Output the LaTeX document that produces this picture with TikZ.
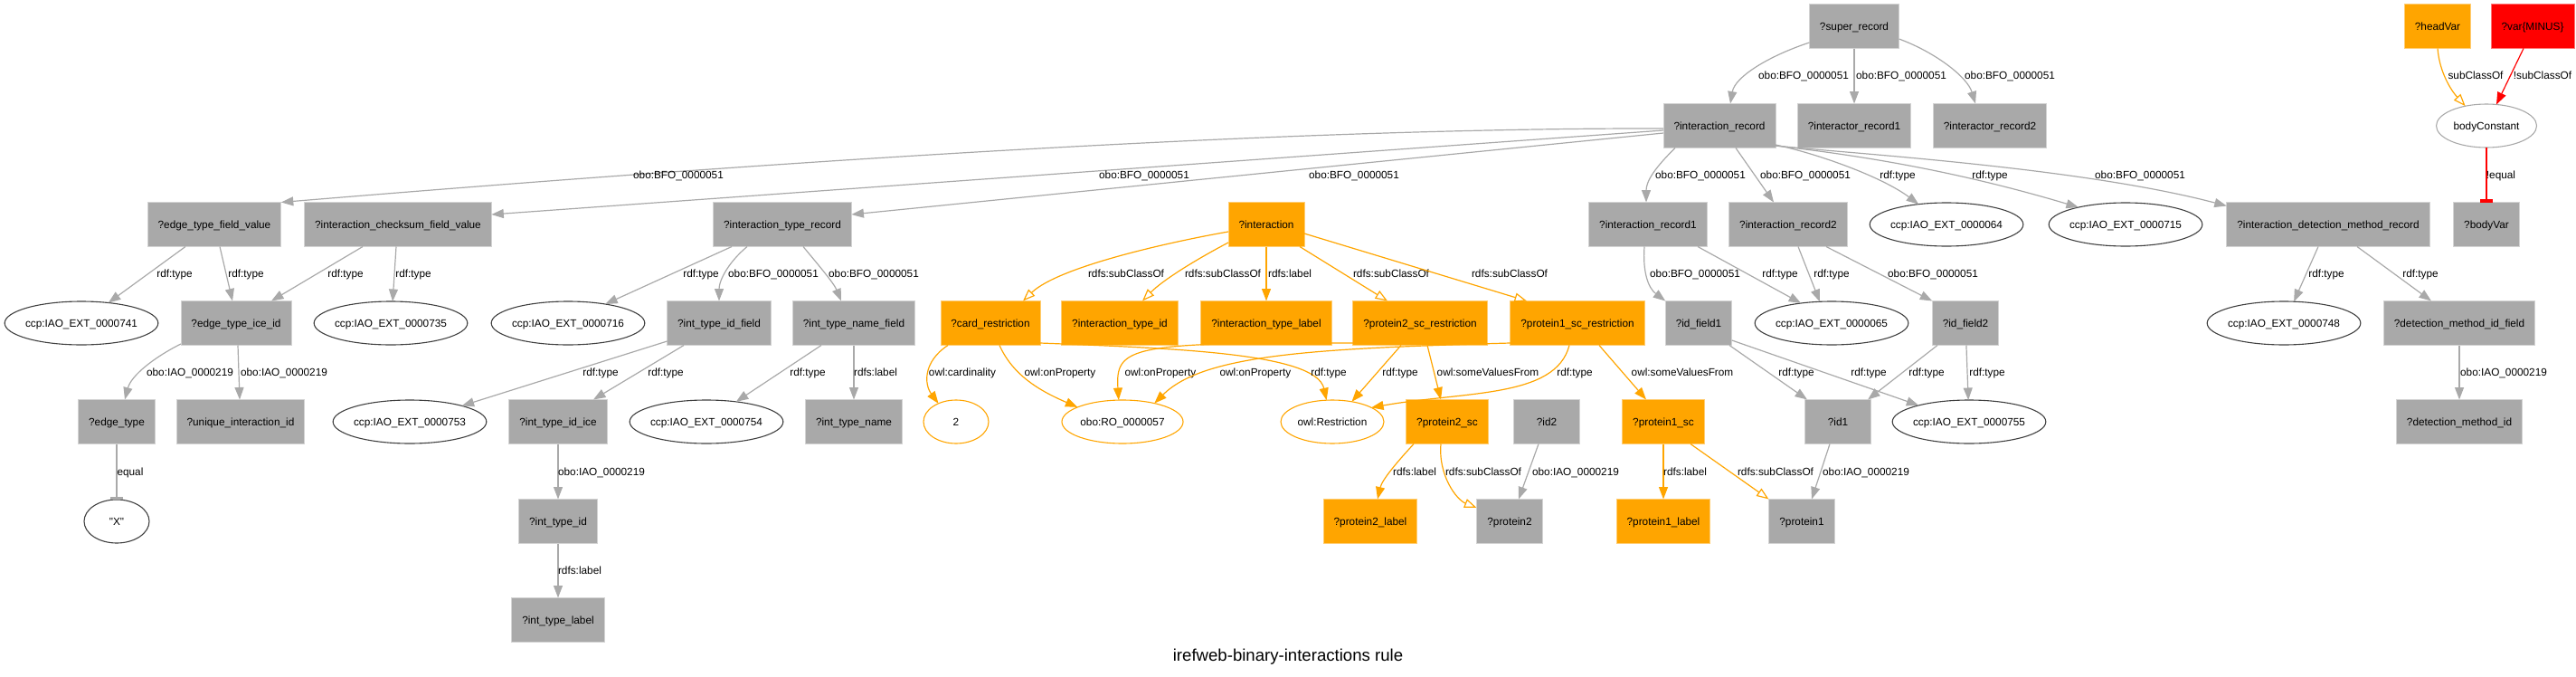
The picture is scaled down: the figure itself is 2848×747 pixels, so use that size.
\documentclass[tikz,border=0pt]{standalone}
\usepackage{fontspec}
\newfontfamily\gvfont{Liberation Sans}
\usetikzlibrary{arrows.meta,shapes.geometric}
\definecolor{gvgray}{HTML}{A9A9A9}
\definecolor{gvlight}{HTML}{D3D3D3}
\definecolor{gvorange}{HTML}{FFA500}
\definecolor{gvred}{HTML}{FF0000}
\definecolor{gvdark}{HTML}{404040}
\newcommand{\lblfont}{\gvfont\fontsize{11.8pt}{14pt}\selectfont}
\newcommand{\titlefont}{\gvfont\fontsize{18.6pt}{22pt}\selectfont}

\begin{document}
\begin{tikzpicture}[x=1pt,y=-1pt,>={Triangle[length=13.5pt,width=10pt]},
  var node/.style={rectangle,fill=gvgray,draw=gvlight,line width=0.8pt,minimum height=49pt,minimum width=73pt,inner xsep=11.5pt,inner ysep=0pt,outer sep=0pt,text height=8.5pt,text depth=0pt,font=\lblfont},
  head node/.style={var node,fill=gvorange,draw=gvorange!55!white},
  minus node/.style={var node,fill=gvred,draw=gvred!55!white},
  const node/.style={ellipse,draw=gvdark,line width=1.1pt,minimum height=48pt,minimum width=72pt,inner xsep=-2pt,inner ysep=0pt,outer sep=0pt,text height=8.5pt,text depth=0pt,font=\lblfont},
  head const/.style={const node,draw=gvorange},
  body const/.style={const node,draw=gvgray},
  body edge/.style={->,draw=gvgray,line width=1.2pt},
  head edge/.style={->,draw=gvorange,line width=1.2pt},
  sub edge/.style={head edge,-{Triangle[open,length=13.5pt,width=10pt]}},
  minus edge/.style={->,draw=gvred,line width=1.2pt},
  equal edge/.style={-{Rectangle[length=3.5pt,width=14pt]}},
  lbl/.style={font=\lblfont,inner sep=0pt,text height=8.5pt,text depth=0pt}]
  \useasboundingbox (0,0) rectangle (2848,747);

  \node[var node] (super) at (2050,29) {?super\_record};
  \node[head node] (head) at (2695,29) {?headVar};
  \node[minus node] (minus) at (2800,29) {?var\{MINUS\}};

  \node[var node] (ir) at (1901,139) {?interaction\_record};
  \node[var node] (iar1) at (2050,139) {?interactor\_record1};
  \node[var node] (iar2) at (2200,139) {?interactor\_record2};
  \node[body const,minimum width=111pt] (bc) at (2749,139) {bodyConstant};

  \node[var node] (etfv) at (237,248) {?edge\_type\_field\_value};
  \node[var node] (icfv) at (440,248) {?interaction\_checksum\_field\_value};
  \node[var node] (itr) at (865,248) {?interaction\_type\_record};
  \node[head node] (inter) at (1400,248) {?interaction};
  \node[var node] (ir1) at (1822,248) {?interaction\_record1};
  \node[var node] (ir2) at (1977,248) {?interaction\_record2};
  \node[const node] (e64) at (2152,248) {ccp:IAO\_EXT\_0000064};
  \node[const node] (e715) at (2350,248) {ccp:IAO\_EXT\_0000715};
  \node[var node] (idmr) at (2574,248) {?interaction\_detection\_method\_record};
  \node[var node] (bv) at (2749,248) {?bodyVar};

  \node[const node] (e741) at (90,357) {ccp:IAO\_EXT\_0000741};
  \node[var node] (etii) at (261,357) {?edge\_type\_ice\_id};
  \node[const node] (e735) at (432,357) {ccp:IAO\_EXT\_0000735};
  \node[const node] (e716) at (628,357) {ccp:IAO\_EXT\_0000716};
  \node[var node] (itif) at (795,357) {?int\_type\_id\_field};
  \node[var node] (itnf) at (944,357) {?int\_type\_name\_field};
  \node[head node] (card) at (1095,357) {?card\_restriction};
  \node[head node] (itid) at (1238,357) {?interaction\_type\_id};
  \node[head node] (itlab) at (1400,357) {?interaction\_type\_label};
  \node[head node] (p2r) at (1570,357) {?protein2\_sc\_restriction};
  \node[head node] (p1r) at (1744,357) {?protein1\_sc\_restriction};
  \node[var node] (idf1) at (1878,357) {?id\_field1};
  \node[const node] (e65) at (2025,357) {ccp:IAO\_EXT\_0000065};
  \node[var node] (idf2) at (2173,357) {?id\_field2};
  \node[const node] (e748) at (2525,357) {ccp:IAO\_EXT\_0000748};
  \node[var node] (dmif) at (2719,357) {?detection\_method\_id\_field};

  \node[var node] (etype) at (129,466) {?edge\_type};
  \node[var node] (uiid) at (266,466) {?unique\_interaction\_id};
  \node[const node] (e753) at (453,466) {ccp:IAO\_EXT\_0000753};
  \node[var node] (itii) at (617,466) {?int\_type\_id\_ice};
  \node[const node] (e754) at (781,466) {ccp:IAO\_EXT\_0000754};
  \node[var node] (itn) at (944,466) {?int\_type\_name};
  \node[head const] (two) at (1057,466) {2};
  \node[head const,minimum width=134pt] (ro) at (1241,466) {obo:RO\_0000057};
  \node[head const,minimum width=114pt] (restr) at (1473,466) {owl:Restriction};
  \node[head node] (p2sc) at (1600,466) {?protein2\_sc};
  \node[var node] (id2) at (1710,466) {?id2};
  \node[head node] (p1sc) at (1839,466) {?protein1\_sc};
  \node[var node] (id1) at (2032,466) {?id1};
  \node[const node] (e755) at (2177,466) {ccp:IAO\_EXT\_0000755};
  \node[var node] (dmid) at (2719,466) {?detection\_method\_id};

  \node[const node] (xq) at (129,576) {"X"};
  \node[var node] (itidv) at (617,576) {?int\_type\_id};
  \node[head node] (p2lab) at (1515,576) {?protein2\_label};
  \node[var node] (prot2) at (1669,576) {?protein2};
  \node[head node] (p1lab) at (1839,576) {?protein1\_label};
  \node[var node] (prot1) at (1992,576) {?protein1};

  \node[var node] (itl) at (617,685) {?int\_type\_label};

  \node[font=\titlefont,inner sep=0pt,text height=13.3pt,text depth=0pt] (title) at (1424,724) {irefweb-binary-interactions rule};

  \draw[body edge] ([yshift=-18pt]super.west) .. controls (1955,62) and (1918,85) .. ([xshift=12pt]ir.north) node[lbl] at (1994,83) {obo:BFO\_0000051};
  \draw[body edge] (super) -- (iar1) node[lbl] at (2102,83) {obo:BFO\_0000051};
  \draw[body edge] ([yshift=-14pt]super.east) .. controls (2140,58) and (2175,85) .. ([xshift=-16pt]iar2.north) node[lbl] at (2222,83) {obo:BFO\_0000051};

  \draw[body edge] ([yshift=-3pt]ir.west) .. controls (1400,141) and (800,183) .. (etfv.north east) node[lbl] at (750,193) {obo:BFO\_0000051};
  \draw[body edge] ([yshift=-5pt]ir.west) -- ([yshift=11pt]icfv.east) node[lbl] at (1265,193) {obo:BFO\_0000051};
  \draw[body edge] ([yshift=-8pt]ir.west) -- ([yshift=11pt]itr.east) node[lbl] at (1497,193) {obo:BFO\_0000051};
  \draw[body edge] ([xshift=-49pt]ir.south) .. controls (1830,185) and (1820,200) .. ([xshift=-2pt]ir1.north) node[lbl] at (1880,193) {obo:BFO\_0000051};
  \draw[body edge] ([xshift=18pt]ir.south) -- ([xshift=-16pt]ir2.north) node[lbl] at (1996,193) {obo:BFO\_0000051};
  \draw[body edge] ([yshift=-21pt]ir.east) .. controls (2010,170) and (2080,195) .. (e64.144) node[lbl] at (2098,193) {rdf:type};
  \draw[body edge] ([yshift=-22pt]ir.east) .. controls (2040,170) and (2150,185) .. (e715.160) node[lbl] at (2200,193) {rdf:type};
  \draw[body edge] ([yshift=-22pt]ir.east) .. controls (2050,170) and (2300,185) .. ([yshift=-4pt]idmr.north west) node[lbl] at (2366,193) {obo:BFO\_0000051};

  \draw[sub edge] (head.south) .. controls (2697,80) and (2710,100) .. (bc.137) node[lbl] at (2737,83) {subClassOf};
  \draw[minus edge] ([xshift=-10pt]minus.south) -- (bc.65) node[lbl] at (2811,83) {!subClassOf};
  \draw[minus edge,equal edge] (bc) -- (bv) node[lbl] at (2765,193) {!equal};

  \draw[body edge] ([xshift=-32pt]etfv.south) -- (e741.37) node[lbl] at (193,302) {rdf:type};
  \draw[body edge] ([xshift=6pt]etfv.south) -- ([xshift=-4pt]etii.north) node[lbl] at (272,302) {rdf:type};
  \draw[body edge] ([xshift=-39pt]icfv.south) -- ([xshift=39pt]etii.north) node[lbl] at (382,302) {rdf:type};
  \draw[body edge] ([xshift=-2pt]icfv.south) -- (e735.85) node[lbl] at (457,302) {rdf:type};
  \draw[body edge] ([yshift=-23pt]etii.west) .. controls (170,395) and (145,415) .. ([xshift=9pt]etype.north) node[lbl] at (210,411) {obo:IAO\_0000219};
  \draw[body edge] ([xshift=2pt]etii.south) -- ([xshift=-1pt]uiid.north) node[lbl] at (314,411) {obo:IAO\_0000219};
  \draw[body edge,equal edge] (etype) -- (xq) node[lbl] at (144,521) {equal};

  \draw[body edge] ([xshift=-56pt]itr.south) -- (e716.27) node[lbl] at (775,302) {rdf:type};
  \draw[body edge] ([xshift=-39pt]itr.south) .. controls (805,290) and (795,310) .. (itif.north) node[lbl] at (855,302) {obo:BFO\_0000051};
  \draw[body edge] ([xshift=23pt]itr.south) .. controls (905,293) and (922,313) .. ([xshift=-14pt]itnf.north) node[lbl] at (966,302) {obo:BFO\_0000051};
  \draw[body edge] ([yshift=-20pt]itif.west) -- (e753.17) node[lbl] at (664,411) {rdf:type};
  \draw[body edge] ([xshift=-39pt]itif.south) -- ([xshift=39pt]itii.north) node[lbl] at (736,411) {rdf:type};
  \draw[body edge] ([xshift=-36pt]itnf.south) -- (e754.34) node[lbl] at (893,411) {rdf:type};
  \draw[body edge] (itnf) -- (itn) node[lbl] at (968,411) {rdfs:label};
  \draw[body edge] (itii) -- (itidv) node[lbl] at (665,521) {obo:IAO\_0000219};
  \draw[body edge] (itidv) -- (itl) node[lbl] at (641,630) {rdfs:label};

  \draw[sub edge] ([yshift=-8pt]inter.west) .. controls (1290,268) and (1170,295) .. ([xshift=36pt]card.north) node[lbl] at (1245,302) {rdfs:subClassOf};
  \draw[sub edge] ([yshift=-20pt]inter.west) .. controls (1320,288) and (1285,310) .. ([xshift=25pt]itid.north) node[lbl] at (1352,302) {rdfs:subClassOf};
  \draw[head edge] (inter) -- (itlab) node[lbl] at (1426,302) {rdfs:label};
  \draw[sub edge] ([xshift=37pt]inter.south) -- ([xshift=-36pt]p2r.north) node[lbl] at (1538,302) {rdfs:subClassOf};
  \draw[sub edge] ([yshift=-10pt]inter.east) -- ([xshift=-56pt]p1r.north) node[lbl] at (1669,302) {rdfs:subClassOf};

  \draw[head edge] ([xshift=-47pt]card.south) .. controls (1020,400) and (1022,425) .. (two.134) node[lbl] at (1064,411) {owl:cardinality};
  \draw[head edge] ([xshift=10pt]card.south) .. controls (1120,415) and (1150,432) .. (ro.162) node[lbl] at (1172,411) {owl:onProperty};
  \draw[head edge] ([yshift=-22pt]card.east) .. controls (1300,385) and (1455,390) .. (restr.105) node[lbl] at (1469,411) {rdf:type};
  \draw[head edge] ([yshift=-22pt]p2r.west) .. controls (1250,378) and (1233,383) .. (ro.100) node[lbl] at (1283,411) {owl:onProperty};
  \draw[head edge] ([xshift=-21pt]p2r.south) -- (restr.46) node[lbl] at (1548,411) {rdf:type};
  \draw[head edge] ([xshift=8pt]p2r.south) -- ([xshift=-7pt]p2sc.north) node[lbl] at (1645,411) {owl:someValuesFrom};
  \draw[head edge] ([yshift=-22pt]p1r.west) .. controls (1450,385) and (1330,392) .. (ro.30) node[lbl] at (1388,411) {owl:onProperty};
  \draw[head edge] ([xshift=-9pt]p1r.south) .. controls (1720,440) and (1620,432) .. (restr.20) node[lbl] at (1741,411) {rdf:type};
  \draw[head edge] ([xshift=24pt]p1r.south) -- ([xshift=-19pt]p1sc.north) node[lbl] at (1860,411) {owl:someValuesFrom};

  \draw[head edge] ([xshift=-37pt]p2sc.south) .. controls (1545,510) and (1528,530) .. ([xshift=8pt]p2lab.north) node[lbl] at (1564,521) {rdfs:label};
  \draw[sub edge] ([xshift=-7pt]p2sc.south) .. controls (1590,525) and (1610,552) .. ([yshift=15pt]prot2.west) node[lbl] at (1640,521) {rdfs:subClassOf};
  \draw[body edge] ([xshift=-9pt]id2.south) -- ([xshift=10pt]prot2.north) node[lbl] at (1742,521) {obo:IAO\_0000219};
  \draw[head edge] (p1sc) -- (p1lab) node[lbl] at (1863,521) {rdfs:label};
  \draw[sub edge] ([xshift=30pt]p1sc.south) -- (prot1.north west) node[lbl] at (1963,521) {rdfs:subClassOf};
  \draw[body edge] ([xshift=-9pt]id1.south) -- ([xshift=11pt]prot1.north) node[lbl] at (2063,521) {obo:IAO\_0000219};

  \draw[body edge] ([xshift=-4pt]ir1.south) .. controls (1816,300) and (1822,318) .. (idf1.north west) node[lbl] at (1874,302) {obo:BFO\_0000051};
  \draw[body edge] ([xshift=55pt]ir1.south) -- (e65.147) node[lbl] at (1968,302) {rdf:type};
  \draw[body edge] ([xshift=11pt]ir2.south) -- (e65.119) node[lbl] at (2025,302) {rdf:type};
  \draw[body edge] ([xshift=42pt]ir2.south) -- (idf2.north west) node[lbl] at (2137,302) {obo:BFO\_0000051};
  \draw[body edge] ([xshift=34pt]idf1.south) -- ([xshift=-34pt]id1.north) node[lbl] at (1986,411) {rdf:type};
  \draw[body edge] ([yshift=-19pt]idf1.east) -- (e755.162) node[lbl] at (2066,411) {rdf:type};
  \draw[body edge] ([xshift=-31pt]idf2.south) -- ([xshift=33pt]id1.north) node[lbl] at (2130,411) {rdf:type};
  \draw[body edge] (idf2) -- (e755.92) node[lbl] at (2197,411) {rdf:type};

  \draw[body edge] ([xshift=-11pt]idmr.south) -- (e748.65) node[lbl] at (2572,302) {rdf:type};
  \draw[body edge] ([xshift=32pt]idmr.south) -- ([xshift=-31pt]dmif.north) node[lbl] at (2676,302) {rdf:type};
  \draw[body edge] (dmif) -- (dmid) node[lbl] at (2768,411) {obo:IAO\_0000219};
\end{tikzpicture}
\end{document}
